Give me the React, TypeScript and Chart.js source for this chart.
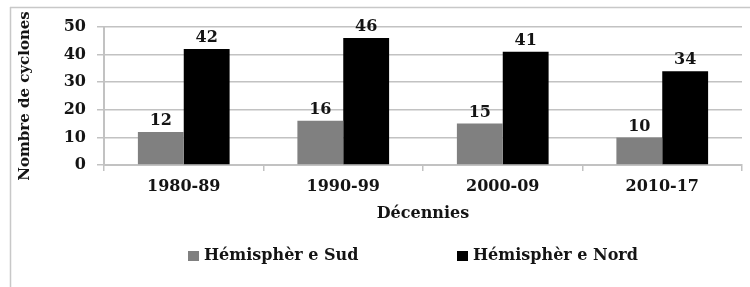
import React, { useEffect, useRef } from "react";
import { Chart, registerables } from "chart.js";

Chart.register(...registerables);

const categories = ["1980-89", "1990-99", "2000-09", "2010-17"];
const sudValues = [12, 16, 15, 10];
const nordValues = [42, 46, 41, 34];
const seriesLabels = ["Hémisphèr e Sud", "Hémisphèr e Nord"];
const seriesColors = ["#808080", "#000000"];
const yTicks = [0, 10, 20, 30, 40, 50];

const FONT = "'DejaVu Serif', 'Liberation Serif', serif";
const TEXT = "#141414";
const GRID = "#c2c2c2";

const framePlugin = {
  id: "frame",
  beforeDraw(chart: any) {
    const { ctx, width, height } = chart;
    ctx.save();
    ctx.fillStyle = "#ffffff";
    ctx.fillRect(0, 0, width, height);
    ctx.strokeStyle = "#c8c8c8";
    ctx.lineWidth = 1.5;
    ctx.beginPath();
    ctx.moveTo(10, 7.5);
    ctx.lineTo(width, 7.5);
    ctx.moveTo(10.5, 7);
    ctx.lineTo(10.5, height);
    ctx.stroke();
    ctx.restore();
  },
};

const dataLabelPlugin = {
  id: "dataLabels",
  afterDatasetsDraw(chart: any) {
    const { ctx } = chart;
    ctx.save();
    ctx.font = `bold 16px ${FONT}`;
    ctx.fillStyle = TEXT;
    ctx.textAlign = "center";
    ctx.textBaseline = "bottom";
    chart.data.datasets.forEach((ds: any, i: number) => {
      const meta = chart.getDatasetMeta(i);
      meta.data.forEach((bar: any, j: number) => {
        ctx.fillText(String(ds.data[j]), bar.x, bar.y - 3);
      });
    });
    ctx.restore();
  },
};

const legendPlugin = {
  id: "customLegend",
  afterDraw(chart: any) {
    const { ctx, chartArea } = chart;
    const offsets = [84, 353];
    const y = 256;
    ctx.save();
    ctx.font = `bold 16px ${FONT}`;
    ctx.textBaseline = "middle";
    ctx.textAlign = "left";
    chart.data.datasets.forEach((ds: any, i: number) => {
      const x = chartArea.left + offsets[i];
      ctx.fillStyle = ds.backgroundColor;
      ctx.fillRect(x, y - 5, 11, 10);
      ctx.fillStyle = TEXT;
      ctx.fillText(ds.label, x + 16, y);
    });
    ctx.restore();
  },
};

export default function App() {
  const ref = useRef<HTMLCanvasElement | null>(null);

  useEffect(() => {
    document.body.style.margin = "0";
    const canvas = ref.current;
    if (!canvas) return;
    const chart = new Chart(canvas, {
      type: "bar",
      data: {
        labels: categories,
        datasets: [
          {
            label: seriesLabels[0],
            data: sudValues,
            backgroundColor: seriesColors[0],
            categoryPercentage: 0.575,
            barPercentage: 1,
          },
          {
            label: seriesLabels[1],
            data: nordValues,
            backgroundColor: seriesColors[1],
            categoryPercentage: 0.575,
            barPercentage: 1,
          },
        ],
      },
      options: {
        responsive: false,
        animation: false,
        devicePixelRatio: 1,
        layout: { padding: { top: 27, bottom: 62, left: 0, right: 8 } },
        plugins: {
          legend: { display: false },
          tooltip: { enabled: false },
        },
        scales: {
          x: {
            offset: true,
            grid: {
              display: true,
              drawOnChartArea: false,
              drawTicks: true,
              tickLength: 6,
              color: GRID,
              lineWidth: 1.5,
            },
            border: { color: GRID, width: 2 },
            ticks: {
              color: TEXT,
              font: { family: FONT, size: 16, weight: "bold" },
              padding: 6,
            },
            title: {
              display: true,
              text: "Décennies",
              color: TEXT,
              font: { family: FONT, size: 16, weight: "bold" },
              padding: { top: 0, bottom: 2 },
            },
            afterFit(scale: any) {
              scale.height = 60;
            },
          },
          y: {
            min: 0,
            max: 50,
            afterBuildTicks(scale: any) {
              scale.ticks = yTicks.map((v) => ({ value: v }));
            },
            grid: {
              color: GRID,
              lineWidth: 1.5,
              tickLength: 7,
            },
            border: { color: GRID, width: 2 },
            ticks: {
              color: TEXT,
              font: { family: FONT, size: 16, weight: "bold" },
              padding: 11,
            },
            title: {
              display: true,
              text: "Nombre de cyclones",
              color: TEXT,
              font: { family: FONT, size: 15, weight: "bold" },
              padding: { top: 16, bottom: 0 },
            },
            afterFit(scale: any) {
              scale.width = 104;
            },
          },
        },
      } as any,
      plugins: [framePlugin, dataLabelPlugin, legendPlugin],
    });
    return () => chart.destroy();
  }, []);

  return (
    <div style={{ position: "absolute", left: 0, top: 0, width: 750, height: 287 }}>
      <canvas ref={ref} width={750} height={287} style={{ display: "block" }} />
    </div>
  );
}
